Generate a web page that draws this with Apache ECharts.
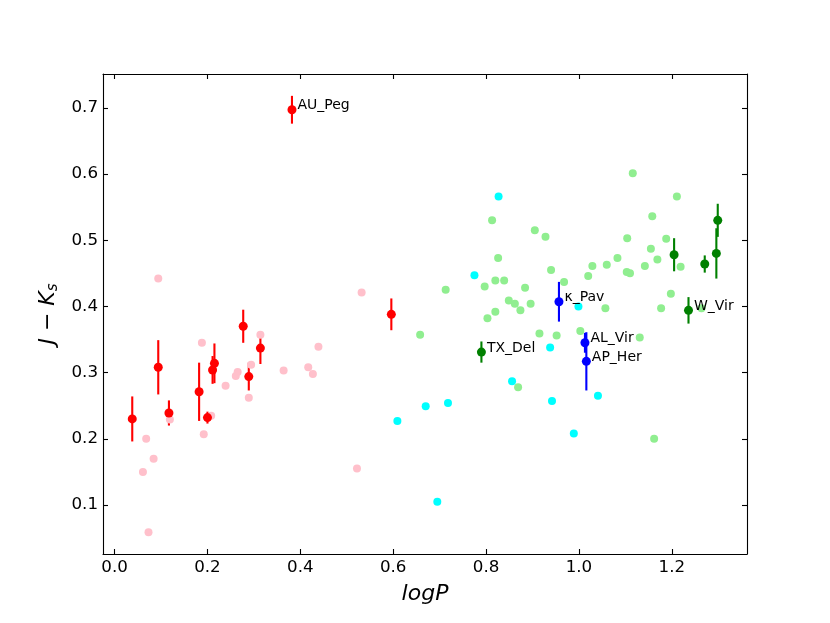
<!DOCTYPE html>
<html lang="en">
<head>
    <meta charset="UTF-8">
    <title>J-Ks vs logP</title>
    <script src="https://cdn.jsdelivr.net/npm/echarts@6/dist/echarts.min.js"></script>
    <style>
        body { margin: 0; background: #fff; }
    </style>
</head>
<body>
    <div id="main" style="width:830px;height:623px;"></div>

    <script>
        // tick labels
        let xTicks = [0.0, 0.2, 0.4, 0.6, 0.8, 1.0, 1.2];
        let yTicks = [0.1, 0.2, 0.3, 0.4, 0.5, 0.6, 0.7];

        // [logP, J-Ks]
        let pinkPts = [[0.094, 0.442], [0.532, 0.421], [0.314, 0.357], [0.188, 0.345], [0.439, 0.339],
            [0.294, 0.312], [0.265, 0.301], [0.261, 0.295], [0.364, 0.303], [0.417, 0.308],
            [0.427, 0.298], [0.239, 0.280], [0.289, 0.262], [0.119, 0.229], [0.208, 0.235],
            [0.192, 0.207], [0.068, 0.200], [0.084, 0.170], [0.061, 0.150], [0.522, 0.155],
            [0.073, 0.059]];
        let lightGreenPts = [[0.713, 0.425], [0.658, 0.357], [0.869, 0.278], [0.797, 0.430], [0.820, 0.439],
            [0.839, 0.439], [0.884, 0.428], [0.849, 0.409], [0.862, 0.404], [0.874, 0.394],
            [0.820, 0.392], [0.803, 0.382], [0.896, 0.404], [0.813, 0.530], [0.905, 0.515],
            [0.928, 0.505], [0.826, 0.473], [0.940, 0.455], [1.029, 0.461], [1.060, 0.463],
            [1.083, 0.473], [1.020, 0.446], [0.968, 0.437], [1.057, 0.397], [0.915, 0.359],
            [0.952, 0.356], [1.003, 0.363], [1.177, 0.397], [1.131, 0.353], [1.116, 0.601],
            [1.211, 0.566], [1.158, 0.536], [1.104, 0.503], [1.188, 0.502], [1.155, 0.487],
            [1.169, 0.471], [1.103, 0.452], [1.110, 0.450], [1.142, 0.461], [1.219, 0.460],
            [1.198, 0.419], [1.162, 0.200], [1.264, 0.397]];
        let cyanPts = [[0.827, 0.566], [0.775, 0.447], [0.999, 0.400], [0.938, 0.338], [0.856, 0.287],
            [0.609, 0.227], [0.670, 0.249], [0.718, 0.254], [0.942, 0.257], [1.041, 0.265],
            [0.989, 0.208], [0.695, 0.105]];

        // [logP, J-Ks, error]
        let redPts = [[0.038, 0.230, 0.034], [0.094, 0.308, 0.041], [0.117, 0.239, 0.019], [0.182, 0.271, 0.044],
            [0.200, 0.232, 0.009], [0.211, 0.304, 0.021], [0.215, 0.314, 0.030], [0.277, 0.370, 0.025],
            [0.289, 0.294, 0.021], [0.314, 0.337, 0.024], [0.382, 0.697, 0.021], [0.596, 0.388, 0.024]];
        let redNames = ['', '', '', '', '', '', '', '', '', '', 'AU_Peg', ''];
        let greenPts = [[0.790, 0.331, 0.016], [1.205, 0.478, 0.025], [1.271, 0.464, 0.013],
            [1.296, 0.480, 0.038], [1.299, 0.530, 0.025], [1.236, 0.394, 0.020]];
        let greenNames = ['TX_Del', '', '', '', '', 'W_Vir'];
        let bluePts = [[0.957, 0.407, 0.030], [1.013, 0.345, 0.015], [1.016, 0.317, 0.044]];
        let blueNames = ['κ_Pav', 'AL_Vir', 'AP_Her'];

        let font = 'DejaVu Sans';

        function errBars(pts, color) {
            return {
                type: 'custom',
                z: 1,
                silent: true,
                data: pts,
                renderItem: function (params, api) {
                    let x = api.value(0), y = api.value(1), e = api.value(2);
                    let p1 = api.coord([x, y - e]);
                    let p2 = api.coord([x, y + e]);
                    return {
                        type: 'line',
                        shape: { x1: p1[0], y1: p1[1], x2: p2[0], y2: p2[1] },
                        style: { stroke: color, lineWidth: 2.1 }
                    };
                }
            };
        }

        function dots(pts, names, color, size) {
            return {
                type: 'scatter',
                z: 3,
                symbolSize: size,
                itemStyle: { color: color, opacity: 1 },
                data: pts.map(function (p, i) {
                    return { value: [p[0], p[1]], name: names ? names[i] : '' };
                }),
                label: {
                    show: !!names,
                    position: 'right',
                    distance: 1,
                    offset: [0, -4],
                    color: '#000',
                    fontFamily: font,
                    fontSize: 14,
                    formatter: function (p) { return p.name; }
                }
            };
        }

        function plain(pts, color) {
            return {
                type: 'scatter',
                z: 2,
                symbolSize: 8,
                itemStyle: { color: color, opacity: 1 },
                data: pts
            };
        }

        let axisLine = { show: true, onZero: false, lineStyle: { color: '#000', width: 1.1 } };
        function ticks(vals) {
            return { inside: true, length: 5, customValues: vals, lineStyle: { color: '#000', width: 1.1 } };
        }

        let chart = echarts.init(document.getElementById('main'));
        chart.setOption({
            backgroundColor: '#fff',
            animation: false,
            grid: { left: 103, right: 83, top: 74, bottom: 69 },
            xAxis: [{
                type: 'value',
                min: -0.025,
                max: 1.362,
                position: 'bottom',
                axisLine: axisLine,
                axisTick: ticks(xTicks),
                axisLabel: {
                    customValues: xTicks,
                    margin: 5,
                    color: '#000',
                    fontFamily: font,
                    fontSize: 16.7,
                    formatter: function (v) { return v.toFixed(1); }
                },
                splitLine: { show: false },
                name: 'logP',
                nameLocation: 'middle',
                nameGap: 29,
                nameTextStyle: { fontFamily: font, fontStyle: 'italic', fontSize: 22, color: '#000' }
            }, {
                type: 'value',
                min: -0.025,
                max: 1.362,
                position: 'top',
                axisLine: axisLine,
                axisTick: ticks(xTicks),
                axisLabel: { show: false },
                splitLine: { show: false }
            }],
            yAxis: [{
                type: 'value',
                min: 0.026,
                max: 0.751,
                position: 'left',
                axisLine: axisLine,
                axisTick: ticks(yTicks),
                axisLabel: {
                    customValues: yTicks,
                    margin: 5,
                    color: '#000',
                    fontFamily: font,
                    fontSize: 16.7,
                    formatter: function (v) { return v.toFixed(1); }
                },
                splitLine: { show: false },
                name: '{i|J − K}{s|s}',
                nameLocation: 'middle',
                nameRotate: 90,
                nameGap: 40,
                nameTextStyle: {
                    color: '#000',
                    rich: {
                        i: { fontFamily: font, fontStyle: 'italic', fontSize: 22, color: '#000' },
                        s: { fontFamily: font, fontStyle: 'italic', fontSize: 15, color: '#000', padding: [10, 0, 0, 0] }
                    }
                }
            }, {
                type: 'value',
                min: 0.026,
                max: 0.751,
                position: 'right',
                axisLine: axisLine,
                axisTick: ticks(yTicks),
                axisLabel: { show: false },
                splitLine: { show: false }
            }],
            series: [
                errBars(redPts, '#ff0000'),
                errBars(greenPts, '#008000'),
                errBars(bluePts, '#0000ff'),
                plain(pinkPts, '#ffc0cb'),
                plain(lightGreenPts, '#90ee90'),
                plain(cyanPts, '#00ffff'),
                dots(redPts, redNames, '#ff0000', 9),
                dots(greenPts, greenNames, '#008000', 9),
                dots(bluePts, blueNames, '#0000ff', 9)
            ]
        });
    </script>
</body>
</html>
